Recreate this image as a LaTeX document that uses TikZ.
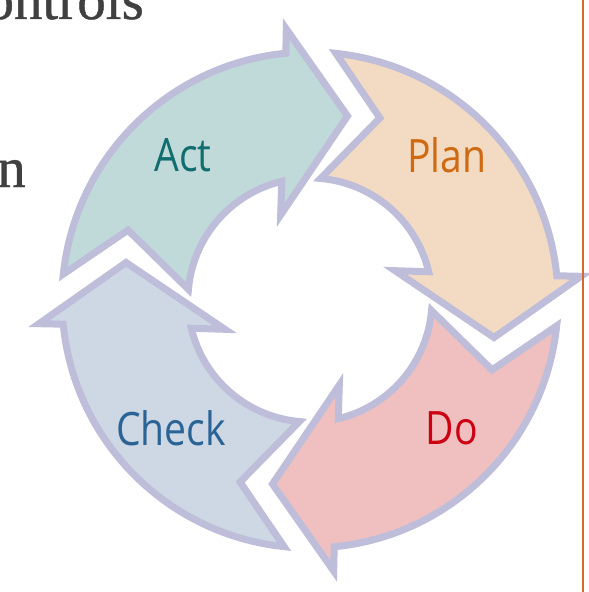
\documentclass[tikz,border=0pt]{standalone}
\usepackage{fontspec}
\setmainfont{Liberation Serif}
\newfontfamily\slideserif[FakeBold=0.8]{Liberation Serif}
\newfontfamily\labfont{Open Sans}
\definecolor{rim}{RGB}{190,190,218}
\definecolor{actfill}{RGB}{192,218,218}
\definecolor{planfill}{RGB}{243,218,194}
\definecolor{dofill}{RGB}{240,192,192}
\definecolor{checkfill}{RGB}{205,216,228}
\definecolor{acttext}{RGB}{16,110,110}
\definecolor{plantext}{RGB}{208,106,16}
\definecolor{dotext}{RGB}{204,0,16}
\definecolor{checktext}{RGB}{42,100,150}
\definecolor{slidetext}{RGB}{64,64,64}
\definecolor{rule}{RGB}{215,105,45}
\tikzset{
  cyclearrow/.style={draw=rim, line width=7pt, line join=miter, fill=#1},
  steplabel/.style={font=\labfont\fontsize{46}{50}\selectfont, text=#1, inner sep=0pt},
  slidefont/.style={font=\slideserif\fontsize{57}{60}\selectfont, text=slidetext, inner sep=0pt}
}
\newcommand{\pdcashape}{(84:248) arc[start angle=84, end angle=5.6, radius=248] -- (271,23.7) -- (184,-37.5) -- (85.1,29.3) -- (13.4:122) arc[start angle=13.4, end angle=85, radius=122] -- (69:195) -- cycle}
\begin{document}
\begin{tikzpicture}[x=1pt,y=1pt]
\useasboundingbox (-310,-292) rectangle (279,300);
\clip (-310,-292) rectangle (279,300);
\fill[white] (-310,-292) rectangle (279,300);
% partial slide text
\node[slidefont, anchor=base east] (ctrl) at (-166,281) {ontrols};
\node[slidefont, anchor=base east] (nfrag) at (-284,113) {n};
% four arrows
\begin{scope}[rotate=0]
  \path[cyclearrow=planfill] \pdcashape;
\end{scope}
\begin{scope}[rotate=-90]
  \path[cyclearrow=dofill] \pdcashape;
\end{scope}
\begin{scope}[rotate=-180]
  \path[cyclearrow=checkfill] \pdcashape;
\end{scope}
\begin{scope}[rotate=90]
  \path[cyclearrow=actfill] \pdcashape;
\end{scope}
% labels
\node[steplabel=acttext] (act) at (-127,145) {\scalebox{0.85}[1]{Act}};
\node[steplabel=plantext] (plan) at (137,145) {\scalebox{0.85}[1]{Plan}};
\node[steplabel=dotext] (do) at (142,-128) {\scalebox{0.85}[1]{Do}};
\node[steplabel=checktext] (check) at (-139,-128) {\scalebox{0.85}[1]{Check}};
% orange rule
\draw[rule, line width=2pt] (272.5,-292) -- (272.5,300);
\end{tikzpicture}
\end{document}
